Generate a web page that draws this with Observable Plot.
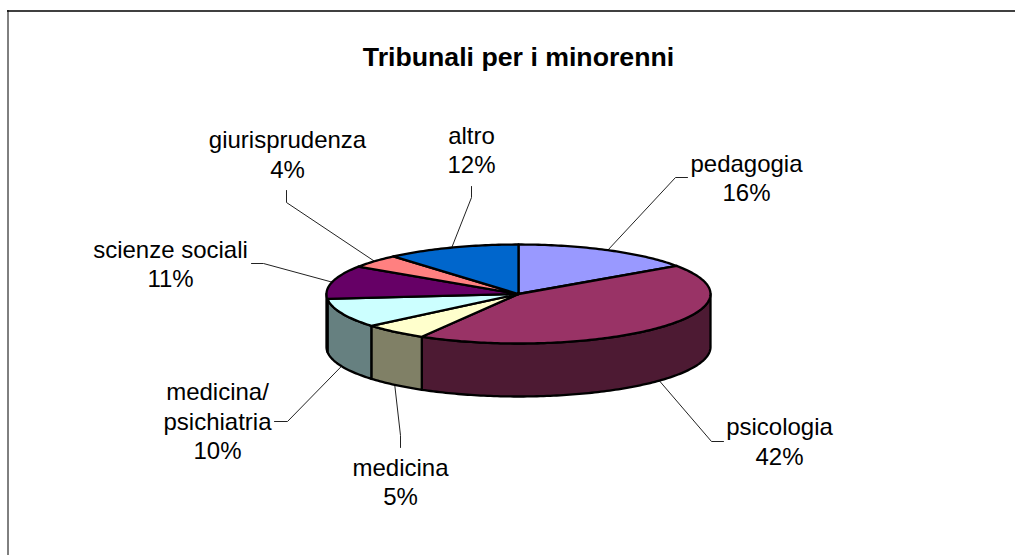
<!DOCTYPE html>
<html>
<head>
<meta charset="utf-8">
<script src="https://cdn.jsdelivr.net/npm/d3@7"></script>
<script src="https://cdn.jsdelivr.net/npm/@observablehq/plot@0.6"></script>
<style>
  html, body { margin: 0; padding: 0; background: #fff; }
  svg { display: block; }
</style>
</head>
<body>
<div id="chart"></div>
<script>
// --- data ---
const title = "Tribunali per i minorenni";
const categories = ["pedagogia", "psicologia", "medicina", "medicina/\npsichiatria", "scienze sociali", "giurisprudenza", "altro"];
const percentLabels = ["16%", "42%", "5%", "10%", "11%", "4%", "12%"];
// slice sizes
const shares = [15.4, 43.0, 5.5, 9.5, 10.9, 4.4, 11.3];
const sliceColors = ["#9999FF", "#993366", "#FFFFCC", "#CCFFFF", "#660066", "#FF8080", "#0066CC"];

// --- layout of the drawing (pie projection, hand-placed labels) ---
const pie3d = {cx: 518, cy: 293.5, rx: 192, ry: 49.5, depth: 53};
const labelPos = [[746, 176.5], [779, 440], [400, 480.5], [217, 420], [170, 262.5], [287, 153], [471, 148.5]];
const elbows = [
  [[675, 177], [687, 177]],
  [[711, 441], [723, 441]],
  [[400, 435], [400, 447]],
  [[287, 421], [274, 421]],
  [[263, 263], [251, 263]],
  [[286, 202], [286, 190]],
  [[471, 197], [471, 186]]
];

// --- geometry derived from the values ---
const arcs = d3.pie().sort(null)(shares);
const px = (a) => pie3d.cx + pie3d.rx * Math.sin(a);
const py = (a, down = 0) => pie3d.cy - pie3d.ry * Math.cos(a) + down;
const sweep = (a0, a1) => {
  const n = Math.max(2, Math.ceil(Math.abs(a1 - a0) / (Math.PI / 180)));
  return d3.range(n + 1).map((i) => a0 + (a1 - a0) * i / n);
};
const half = (c) => { const r = d3.rgb(c); return d3.rgb(r.r / 2, r.g / 2, r.b / 2).formatHex(); };

const walls = [];
const tops = [];
const leaders = [];
arcs.forEach((s, i) => {
  const a0 = Math.max(s.startAngle, Math.PI / 2);
  const a1 = Math.min(s.endAngle, 3 * Math.PI / 2);
  if (a1 > a0) {
    const upper = sweep(a0, a1).map((a) => ({x: px(a), y: py(a)}));
    const lower = sweep(a1, a0).map((a) => ({x: px(a), y: py(a, pie3d.depth)}));
    [...upper, ...lower, upper[0]].forEach((p) => walls.push({...p, key: i, fill: half(sliceColors[i])}));
  }
  const rim = sweep(s.startAngle, s.endAngle).map((a) => ({x: px(a), y: py(a)}));
  const hub = {x: pie3d.cx, y: pie3d.cy};
  [hub, ...rim, hub].forEach((p) => tops.push({...p, key: i, fill: sliceColors[i]}));

  const mid = (s.startAngle + s.endAngle) / 2;
  const front = Math.cos(mid) < 0;
  const start = {x: px(mid), y: py(mid, front ? pie3d.depth : 0)};
  [start, ...elbows[i].map(([x, y]) => ({x, y}))].forEach((p) => leaders.push({...p, key: i}));
});

const labels = categories.map((c, i) => ({
  text: `${c}\n${percentLabels[i]}`,
  x: labelPos[i][0],
  y: labelPos[i][1]
}));

const font = "Liberation Sans, Arial, sans-serif";

const chart = Plot.plot({
  width: 1015,
  height: 555,
  margin: 0,
  style: {background: "#fff", fontFamily: font},
  x: {domain: [0, 1015], range: [0, 1015], axis: null},
  y: {domain: [0, 555], range: [0, 555], axis: null},
  color: {type: "identity"},
  marks: [
    Plot.ruleY([10.5], {x1: 7, x2: 1015, stroke: "#404040", strokeWidth: 2}),
    Plot.ruleX([7.5], {y1: 10, y2: 555, stroke: "#000", strokeWidth: 1}),
    Plot.line(leaders, {x: "x", y: "y", z: "key", stroke: "#222", strokeWidth: 1, curve: "linear"}),
    Plot.line(walls, {x: "x", y: "y", z: "key", fill: "fill", stroke: "#000", strokeWidth: 2.3, strokeLinejoin: "round", curve: "linear"}),
    Plot.line(tops, {x: "x", y: "y", z: "key", fill: "fill", stroke: "#000", strokeWidth: 2.3, strokeLinejoin: "round", curve: "linear"}),
    Plot.text(labels, {x: "x", y: "y", text: "text", fontSize: 24, lineHeight: 1.23, textAnchor: "middle", fill: "#000", fontFamily: font}),
    Plot.text([title], {x: [518], y: [57], text: (d) => d, fontSize: 26.7, fontWeight: "bold", textAnchor: "middle", fill: "#000", fontFamily: font})
  ]
});
document.getElementById("chart").appendChild(chart);
</script>
</body>
</html>
